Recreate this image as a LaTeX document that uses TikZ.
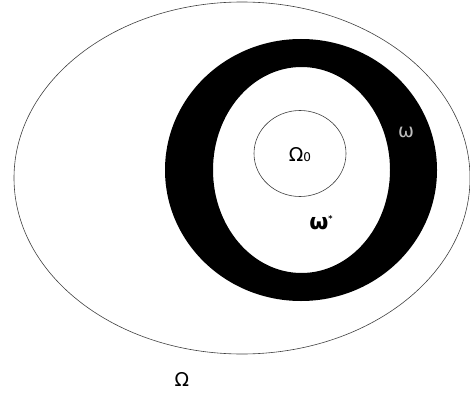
\documentclass[tikz,border=0pt]{standalone}
\usepackage{fontspec}
\setmainfont{DejaVu Sans}
\begin{document}
\begin{tikzpicture}[x=1pt,y=-1pt,
  thinline/.style={draw=black!75,line width=0.6pt},
  lbl/.style={inner sep=0pt,font=\fontsize{19}{19}\selectfont}]
\useasboundingbox (0,0) rectangle (470,401);
\draw[thinline] (242,178) ellipse [x radius=228, y radius=176];
\fill[black,even odd rule] (301,170) ellipse [x radius=136, y radius=131]
  (301.5,170) ellipse [x radius=88.5, y radius=103];
\draw[thinline] (300,153.5) ellipse [x radius=46, y radius=43];
\node[lbl] (o0) at (300,155) {Ω\fontsize{12}{12}\selectfont 0};
\node[lbl,font=\fontsize{22}{22}\selectfont\bfseries] (ws) at (321,223) {ω\raisebox{8pt}{\fontsize{8}{8}\selectfont *}};
\node[lbl,text=black!25] (w) at (406,132) {ω};
\node[lbl] (O) at (182,379) {Ω};
\end{tikzpicture}
\end{document}
